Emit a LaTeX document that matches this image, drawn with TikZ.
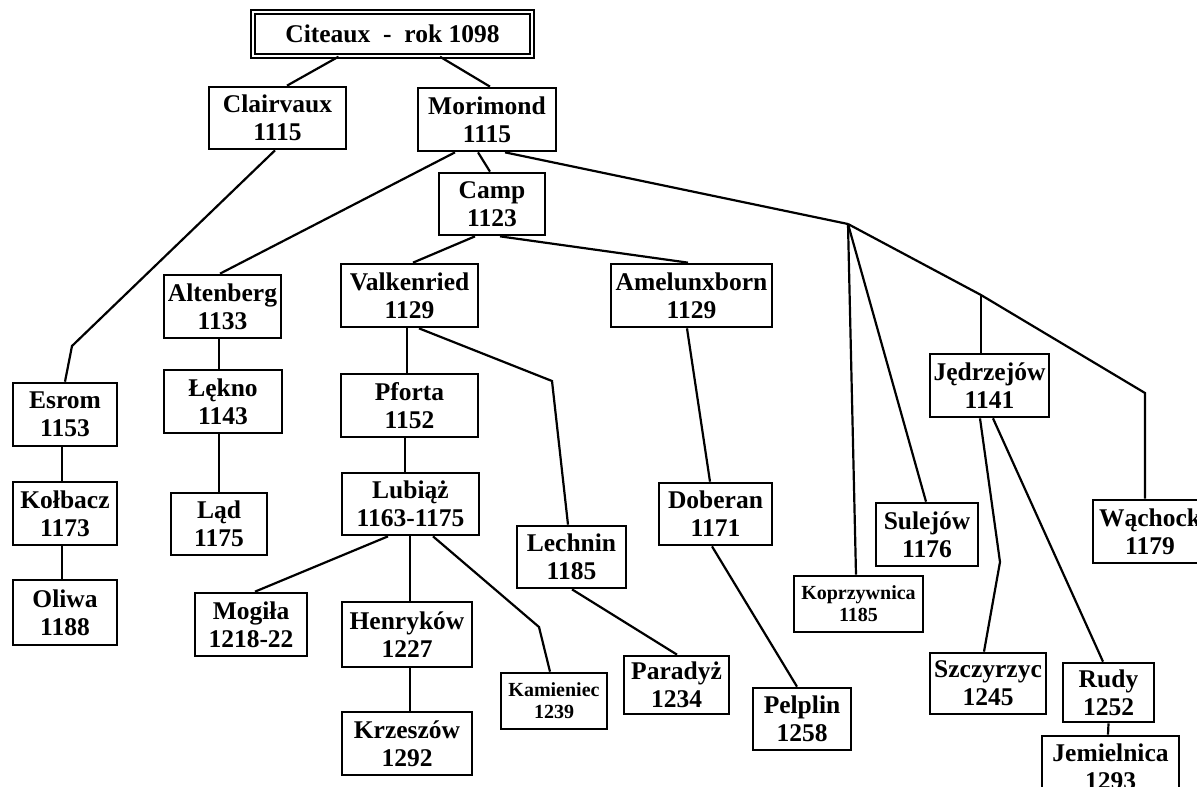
\documentclass[tikz,border=0pt]{standalone}
\usepackage{fontspec}
\setmainfont{Liberation Serif}
\begin{document}
\begin{tikzpicture}[
			x=1pt, y=-1pt,
			box/.style={rectangle,draw,line width=2.7pt,align=center,inner sep=0pt,
				font=\fontsize{25.5}{28}\selectfont\bfseries},
			small/.style={font=\fontsize{20}{22}\selectfont\bfseries},
			wh/.style 2 args={minimum width=#1pt,minimum height=#2pt},
			link/.style={line width=2.2pt},
			]
			\useasboundingbox (0,0) rectangle (1197,787);
			\node [box,wh={279}{44},line width=1.4pt,double,double distance=2.3pt] (cit) at (392.5,34) {Citeaux \ - \ rok 1098};
			\node [box,wh={137}{62}] (clair) at (277.5,118) {Clairvaux\\1115};
			\node [box,wh={138}{63}] (mori) at (487,119.5) {Morimond\\1115};
			\node [box,wh={106}{62}] (camp) at (492,204) {Camp\\1123};
			\node [box,wh={117}{63}] (alten) at (222.5,306.5) {Altenberg\\1133};
			\node [box,wh={137}{63}] (valk) at (409.5,295.5) {Valkenried\\1129};
			\node [box,wh={161}{63}] (amel) at (691.5,295.5) {Amelunxborn\\1129};
			\node [box,wh={104}{63}] (esrom) at (65,414.5) {Esrom\\1153};
			\node [box,wh={104}{63}] (kolb) at (65,513.5) {Kołbacz\\1173};
			\node [box,wh={104}{65}] (oliwa) at (65,612.5) {Oliwa\\1188};
			\node [box,wh={118}{63}] (lekno) at (223,401.5) {Łękno\\1143};
			\node [box,wh={96}{62}] (lad) at (219,524) {Ląd\\1175};
			\node [box,wh={137}{63}] (pforta) at (409.5,405.5) {Pforta\\1152};
			\node [box,wh={137}{62}] (lubiaz) at (410.5,504) {Lubiąż\\1163-1175};
			\node [box,wh={112}{63}] (mogila) at (251,624.5) {Mogiła\\1218-22};
			\node [box,wh={130}{65}] (henr) at (407,634.5) {Henryków\\1227};
			\node [box,wh={130}{63}] (krzes) at (407,743.5) {Krzeszów\\1292};
			\node [box,small,wh={106}{56}] (kamien) at (554,701) {Kamieniec\\1239};
			\node [box,wh={105}{58}] (parad) at (676.5,685) {Paradyż\\1234};
			\node [box,wh={109}{62}] (lechnin) at (571.5,557) {Lechnin\\1185};
			\node [box,wh={113}{62}] (dober) at (715.5,514) {Doberan\\1171};
			\node [box,wh={98}{62}] (pelplin) at (802,719) {Pelplin\\1258};
			\node [box,small,wh={129}{56}] (kopr) at (858.5,604) {Koprzywnica\\1185};
			\node [box,wh={102}{63}] (sulej) at (927,534.5) {Sulejów\\1176};
			\node [box,wh={119}{63}] (jedrz) at (989.5,385.5) {Jędrzejów\\1141};
			\node [box,wh={116}{61}] (szczy) at (988,683.5) {Szczyrzyc\\1245};
			\node [box,wh={114}{63}] (wach) at (1150,531.5) {Wąchock\\1179};
			\node [box,wh={91}{59}] (rudy) at (1108.5,692.5) {Rudy\\1252};
			\node [box,wh={137}{62}] (jemiel) at (1110.5,767) {Jemielnica\\1293};
			\coordinate (esromkink) at (72,346);
			\coordinate (fork) at (848,224);
			\coordinate (jedrzkink) at (981,295);
			\coordinate (wachkink) at (1145,393);
			\coordinate (lechninkink) at (552,381);
			\coordinate (kamienkink) at (539,627);
			\coordinate (szczykink) at (1000,562);
			\path [link,draw] ([xshift=-54pt]cit.south) -- ([xshift=9.5pt]clair.north);
			\path [link,draw] ([xshift=47.5pt]cit.south) -- ([xshift=3pt]mori.north);
			\path [link,draw] ([xshift=-2.5pt]clair.south) -- (esromkink) -- (esrom.north);
			\path [link,draw] ([xshift=-3pt]esrom.south) -- ([xshift=-3pt]kolb.north);
			\path [link,draw] ([xshift=-3pt]kolb.south) -- ([xshift=-3pt]oliwa.north);
			\path [link,draw] ([xshift=-32pt]mori.south) -- ([xshift=-2.5pt]alten.north);
			\path [link,draw] ([xshift=-3.5pt]alten.south) -- ([xshift=-4pt]lekno.north);
			\path [link,draw] ([xshift=-4pt]lekno.south) -- (lad.north);
			\path [link,draw] ([xshift=-9pt]mori.south) -- ([xshift=-2pt]camp.north);
			\path [link,draw] ([xshift=18pt]mori.south) -- (fork);
			\path [link,draw] (fork) -- ([xshift=-2.5pt]kopr.north);
			\path [link,draw] (fork) -- ([xshift=-1pt]sulej.north);
			\path [link,draw] (fork) -- (jedrzkink) -- (wachkink) -- ([xshift=-5pt]wach.north);
			\path [link,draw] (jedrzkink) -- ([xshift=-8.5pt]jedrz.north);
			\path [link,draw] ([xshift=-9.5pt]jedrz.south) -- (szczykink) -- ([xshift=-4pt]szczy.north);
			\path [link,draw] ([xshift=3.5pt]jedrz.south) -- ([xshift=-5.5pt]rudy.north);
			\path [link,draw] (rudy.south) -- ([xshift=-2.5pt]jemiel.north);
			\path [link,draw] ([xshift=-17pt]camp.south) -- ([xshift=3.5pt]valk.north);
			\path [link,draw] ([xshift=8pt]camp.south) -- ([xshift=-3.5pt]amel.north);
			\path [link,draw] ([xshift=-2.5pt]valk.south) -- ([xshift=-2.5pt]pforta.north);
			\path [link,draw] ([xshift=9.5pt]valk.south) -- (lechninkink) -- ([xshift=-3.5pt]lechnin.north);
			\path [link,draw] ([xshift=-4.5pt]amel.south) -- ([xshift=-5.5pt]dober.north);
			\path [link,draw] ([xshift=-4.5pt]pforta.south) -- ([xshift=-5.5pt]lubiaz.north);
			\path [link,draw] ([xshift=-22.5pt]lubiaz.south) -- ([xshift=4pt]mogila.north);
			\path [link,draw] ([xshift=-0.5pt]lubiaz.south) -- ([xshift=3pt]henr.north);
			\path [link,draw] ([xshift=3pt]henr.south) -- ([xshift=3pt]krzes.north);
			\path [link,draw] ([xshift=22.5pt]lubiaz.south) -- (kamienkink) -- ([xshift=-4pt]kamien.north);
			\path [link,draw] ([xshift=0.5pt]lechnin.south) -- ([xshift=0.5pt]parad.north);
			\path [link,draw] ([xshift=-3.5pt]dober.south) -- ([xshift=-5pt]pelplin.north);
		\end{tikzpicture}
\end{document}
